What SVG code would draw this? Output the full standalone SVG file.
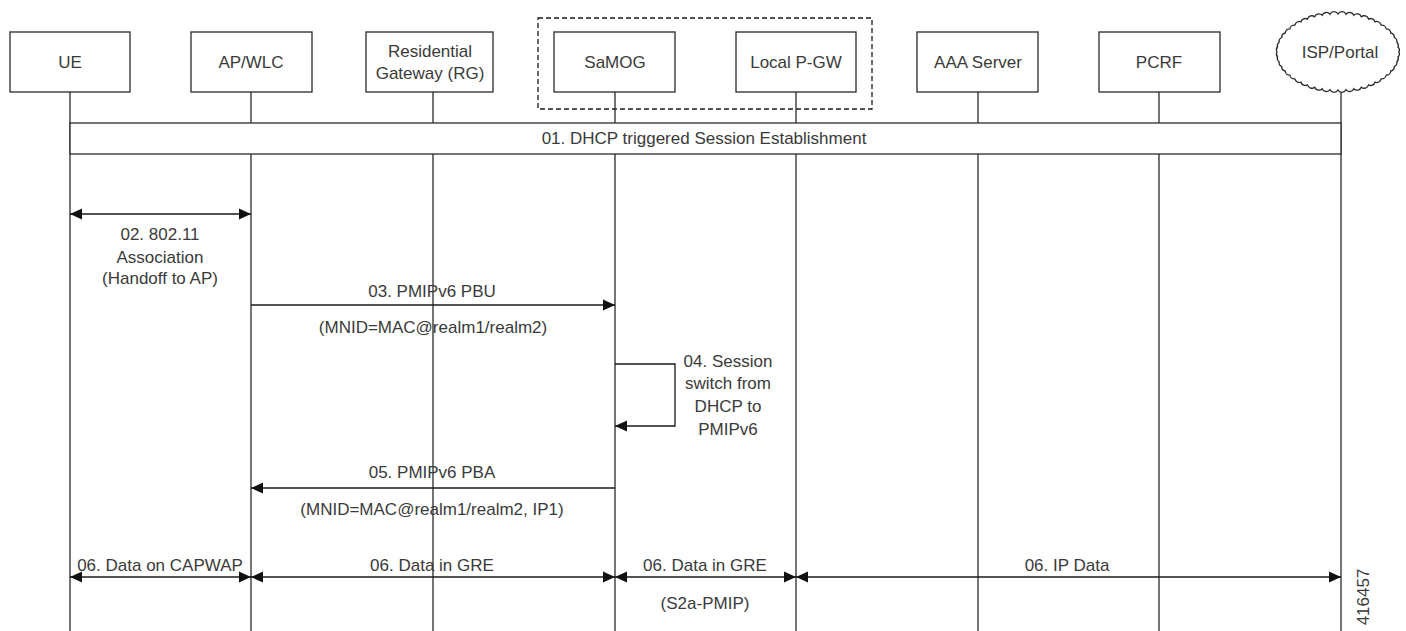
<svg xmlns="http://www.w3.org/2000/svg" width="1406" height="631" viewBox="0 0 1406 631">
<style>
  text { font-family: "Liberation Sans", Arial, sans-serif; font-size: 17px; fill: #3a3a3a; text-anchor: middle; }
  .box { fill: #ffffff; stroke: #2a2a2a; stroke-width: 1.3; }
  .life { stroke: #2a2a2a; stroke-width: 1.3; fill: none; }
  .msg { stroke: #1a1a1a; stroke-width: 1.3; fill: none; }
  .dash { fill: none; stroke: #1a1a1a; stroke-width: 1.3; stroke-dasharray: 5 3; }
</style>
<defs>
  <marker id="ah" markerUnits="userSpaceOnUse" markerWidth="13" markerHeight="12" refX="12" refY="6" orient="auto-start-reverse">
    <path d="M0,0.5 L12,6 L0,11.5 z" fill="#111"/>
  </marker>
</defs>
<rect width="1406" height="631" fill="#ffffff"/>

<g id="group-box">
  <rect class="dash" x="538" y="18" width="334" height="91"/>
</g>

<g id="lifelines">
  <line class="life" x1="70" y1="92" x2="70" y2="631"/>
  <line class="life" x1="251" y1="92" x2="251" y2="631"/>
  <line class="life" x1="433" y1="92" x2="433" y2="631"/>
  <line class="life" x1="615" y1="92" x2="615" y2="631"/>
  <line class="life" x1="796" y1="92" x2="796" y2="631"/>
  <line class="life" x1="978" y1="92" x2="978" y2="631"/>
  <line class="life" x1="1159" y1="92" x2="1159" y2="631"/>
  <line class="life" x1="1341" y1="90" x2="1341" y2="631"/>
</g>

<g id="node-ue">
  <rect class="box" x="10" y="32" width="120" height="60"/>
  <text x="70" y="68">UE</text>
</g>
<g id="node-ap">
  <rect class="box" x="191" y="32" width="121" height="60"/>
  <text x="251" y="68">AP/WLC</text>
</g>
<g id="node-rg">
  <rect class="box" x="366" y="32" width="127" height="60"/>
  <text x="430" y="57">Residential</text>
  <text x="430" y="79">Gateway (RG)</text>
</g>
<g id="node-samog">
  <rect class="box" x="554" y="32" width="121" height="60"/>
  <text x="615" y="68">SaMOG</text>
</g>
<g id="node-pgw">
  <rect class="box" x="736" y="32" width="120" height="60"/>
  <text x="796" y="68">Local P-GW</text>
</g>
<g id="node-aaa">
  <rect class="box" x="917" y="32" width="121" height="60"/>
  <text x="978" y="68">AAA Server</text>
</g>
<g id="node-pcrf">
  <rect class="box" x="1099" y="32" width="121" height="60"/>
  <text x="1159" y="68">PCRF</text>
</g>
<g id="node-isp">
  <path class="box" d="M1399,52 A4.5,4.5 0 0 1 1398,57 A4.5,4.5 0 0 1 1396.9,61.8 A4.5,4.5 0 0 1 1394.3,66.5 A4.5,4.5 0 0 1 1390.8,71 A4.5,4.5 0 0 1 1386.2,75.2 A4.5,4.5 0 0 1 1381.1,78.9 A4.5,4.5 0 0 1 1375,82.2 A4.5,4.5 0 0 1 1368.5,84.9 A4.5,4.5 0 0 1 1361.3,87.2 A4.5,4.5 0 0 1 1353.8,88.7 A4.5,4.5 0 0 1 1346,89.7 A4.5,4.5 0 0 1 1338,90 A4.5,4.5 0 0 1 1330,89.7 A4.5,4.5 0 0 1 1322.2,88.7 A4.5,4.5 0 0 1 1314.7,87.2 A4.5,4.5 0 0 1 1307.5,84.9 A4.5,4.5 0 0 1 1301,82.2 A4.5,4.5 0 0 1 1294.9,78.9 A4.5,4.5 0 0 1 1289.8,75.2 A4.5,4.5 0 0 1 1285.2,71 A4.5,4.5 0 0 1 1281.7,66.5 A4.5,4.5 0 0 1 1279.1,61.8 A4.5,4.5 0 0 1 1277.5,57 A4.5,4.5 0 0 1 1277,52 A4.5,4.5 0 0 1 1277.5,47 A4.5,4.5 0 0 1 1279.1,42.2 A4.5,4.5 0 0 1 1281.7,37.5 A4.5,4.5 0 0 1 1285.2,33 A4.5,4.5 0 0 1 1289.8,28.8 A4.5,4.5 0 0 1 1294.9,25.1 A4.5,4.5 0 0 1 1301,21.8 A4.5,4.5 0 0 1 1307.5,19.1 A4.5,4.5 0 0 1 1314.7,16.8 A4.5,4.5 0 0 1 1322.2,15.3 A4.5,4.5 0 0 1 1330,14.3 A4.5,4.5 0 0 1 1338,14 A4.5,4.5 0 0 1 1346,14.3 A4.5,4.5 0 0 1 1353.8,15.3 A4.5,4.5 0 0 1 1361.3,16.8 A4.5,4.5 0 0 1 1368.5,19.1 A4.5,4.5 0 0 1 1375,21.8 A4.5,4.5 0 0 1 1381.1,25.1 A4.5,4.5 0 0 1 1386.2,28.8 A4.5,4.5 0 0 1 1390.8,33 A4.5,4.5 0 0 1 1394.3,37.5 A4.5,4.5 0 0 1 1396.9,42.2 A4.5,4.5 0 0 1 1398,47 A4.5,4.5 0 0 1 1399,52 Z"/>
  <text x="1340" y="58">ISP/Portal</text>
</g>

<g id="connectors">
  <rect class="box" x="70" y="123" width="1271" height="31"/>
  <line class="msg" x1="70" y1="214" x2="251" y2="214" marker-start="url(#ah)" marker-end="url(#ah)"/>
  <line class="msg" x1="251" y1="305" x2="615" y2="305" marker-end="url(#ah)"/>
  <path class="msg" d="M615,364 H675 V426 H615" marker-end="url(#ah)"/>
  <line class="msg" x1="615" y1="488" x2="251" y2="488" marker-end="url(#ah)"/>
  <line class="msg" x1="70" y1="577" x2="251" y2="577" marker-start="url(#ah)" marker-end="url(#ah)"/>
  <line class="msg" x1="251" y1="577" x2="615" y2="577" marker-start="url(#ah)" marker-end="url(#ah)"/>
  <line class="msg" x1="615" y1="577" x2="796" y2="577" marker-start="url(#ah)" marker-end="url(#ah)"/>
  <line class="msg" x1="796" y1="577" x2="1341" y2="577" marker-start="url(#ah)" marker-end="url(#ah)"/>
</g>

<g id="labels">
  <text x="704" y="144">01. DHCP triggered Session Establishment</text>
  <text x="160" y="240">02. 802.11</text>
  <text x="160" y="263">Association</text>
  <text x="160" y="284">(Handoff to AP)</text>
  <text x="432" y="297">03. PMIPv6 PBU</text>
  <text x="433" y="333">(MNID=MAC@realm1/realm2)</text>
  <text x="728" y="367">04. Session</text>
  <text x="728" y="389">switch from</text>
  <text x="728" y="412">DHCP to</text>
  <text x="728" y="435">PMIPv6</text>
  <text x="432" y="478">05. PMIPv6 PBA</text>
  <text x="432" y="515">(MNID=MAC@realm1/realm2, IP1)</text>
  <text x="160" y="571">06. Data on CAPWAP</text>
  <text x="432" y="571">06. Data in GRE</text>
  <text x="705" y="571">06. Data in GRE</text>
  <text x="705" y="609">(S2a-PMIP)</text>
  <text x="1067" y="571">06. IP Data</text>
  <text x="0" y="0" transform="translate(1369,597) rotate(-90)">416457</text>
</g>
</svg>
